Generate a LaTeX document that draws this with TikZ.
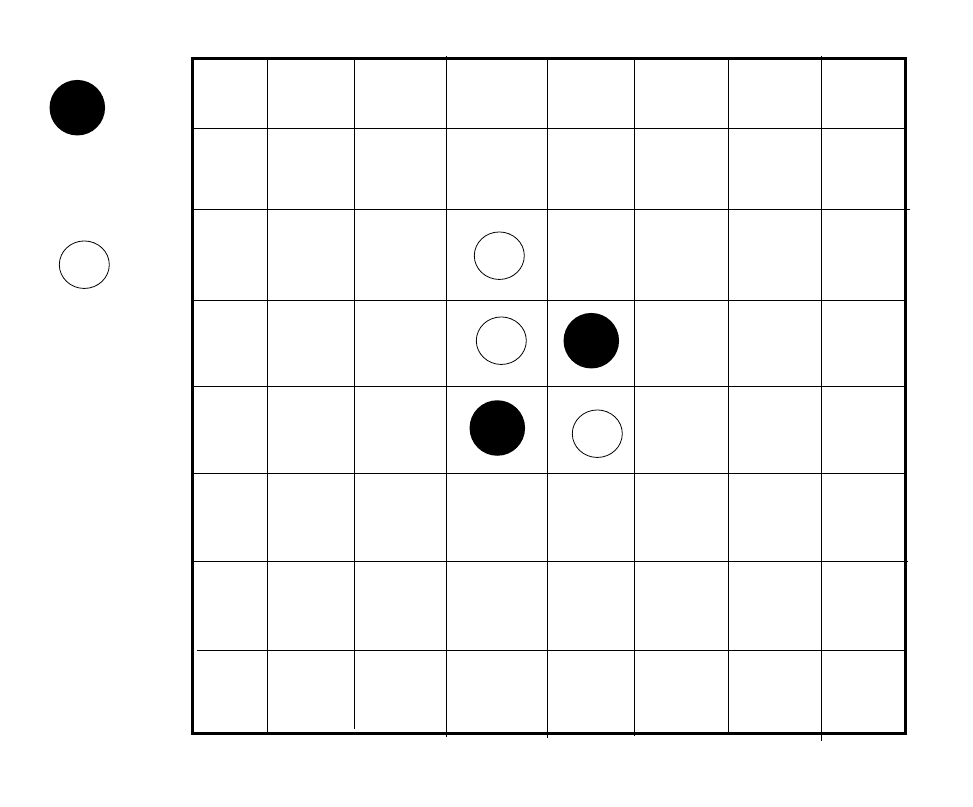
\documentclass[tikz,border=0pt]{standalone}
\usetikzlibrary{shapes.geometric}
\begin{document}
\begin{tikzpicture}[x=1pt,y=-1pt,
  gridline/.style={line width=1.1pt,black},
  frame/.style={line width=3pt,black},
  blackpiece/.style={circle,fill=black,draw=none,minimum size=55.5pt,inner sep=0pt},
  whitepiece/.style={ellipse,draw=black,line width=0.8pt,fill=white,minimum width=50pt,minimum height=47.5pt,inner sep=0pt}]
\useasboundingbox (0,0) rectangle (973,806);
% horizontal lines
\draw[gridline] (192,128.3) -- (906,128.3);
\draw[gridline] (192,209.3) -- (909.5,209.3);
\draw[gridline] (192,300.3) -- (906,300.3);
\draw[gridline] (192,386.2) -- (906,386.2);
\draw[gridline] (192,473.3) -- (906,473.3);
\draw[gridline] (192,561.3) -- (908,561.3);
\draw[gridline] (197,650.3) -- (906,650.3);
% vertical lines
\draw[gridline] (267.3,58) -- (267.3,733);
\draw[gridline] (354.5,58) -- (354.5,729.3);
\draw[gridline] (446.7,55.7) -- (446.7,737);
\draw[gridline] (547.3,58) -- (547.3,738);
\draw[gridline] (634.5,58) -- (634.5,736);
\draw[gridline] (728.3,58) -- (728.3,733);
\draw[gridline] (821.3,56) -- (821.3,740.7);
% frame
\draw[frame] (192.3,58.3) rectangle (905.5,733.3);
% pieces
\node[blackpiece] (legendblack) at (77.3,107.7) {};
\node[whitepiece] (legendwhite) at (84.3,264.7) {};
\node[whitepiece] (w1) at (499.3,255.7) {};
\node[whitepiece] (w2) at (501.3,340.7) {};
\node[blackpiece] (b1) at (591.3,340.7) {};
\node[blackpiece] (b2) at (497.3,428) {};
\node[whitepiece] (w3) at (597.3,433.7) {};
\end{tikzpicture}
\end{document}
